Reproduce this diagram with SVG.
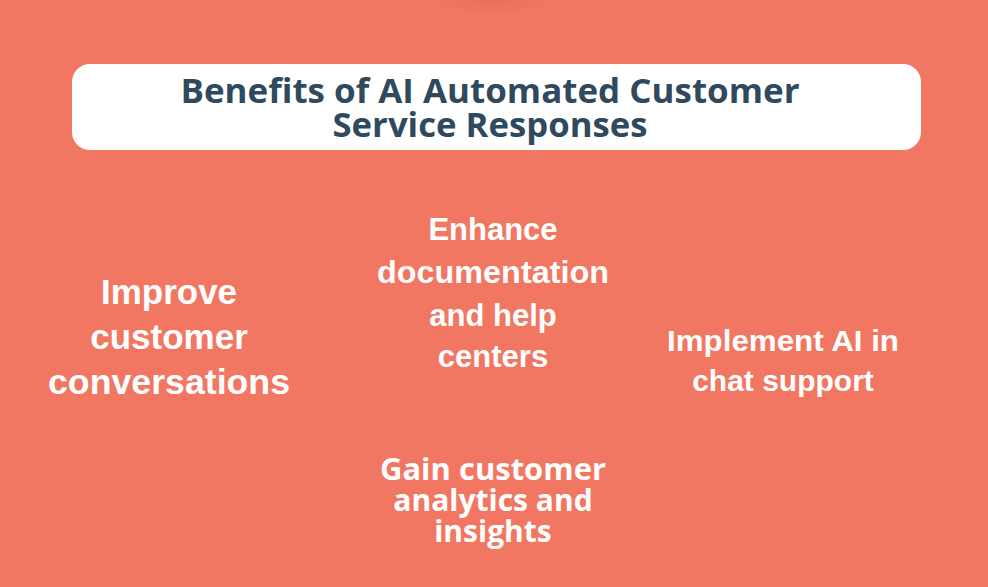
<svg xmlns="http://www.w3.org/2000/svg" width="988" height="587" viewBox="0 0 988 587">
<defs>
<radialGradient id="shade" cx="0.5" cy="0.5" r="0.5">
<stop offset="0" stop-color="#d9604c" stop-opacity="0.35"/>
<stop offset="1" stop-color="#d9604c" stop-opacity="0"/>
</radialGradient>
<style>
.title{font-family:"Open Sans","Liberation Sans",sans-serif;font-weight:700;font-size:34px;fill:#2f4a5e;text-anchor:middle}
.item{font-family:"Liberation Sans",Arial,sans-serif;font-weight:700;fill:#ffffff;text-anchor:middle}
.item2{font-family:"Open Sans","Liberation Sans",sans-serif;font-weight:700;fill:#ffffff;text-anchor:middle;font-size:30px}
</style>
</defs>
<rect x="0" y="0" width="988" height="587" fill="#f27762"/>
<ellipse cx="492" cy="0" rx="60" ry="14" fill="url(#shade)"/>
<g id="title">
<rect x="72" y="64" width="849" height="86" rx="18" fill="#ffffff"/>
<text class="title" x="490" y="103" textLength="619" lengthAdjust="spacingAndGlyphs">Benefits of AI Automated Customer</text>
<text class="title" x="490" y="137" textLength="315" lengthAdjust="spacingAndGlyphs">Service Responses</text>
</g>
<g id="improve">
<text class="item" font-size="35" x="169" y="304">Improve</text>
<text class="item" font-size="35" x="169" y="349">customer</text>
<text class="item" font-size="35" x="169" y="394" textLength="242" lengthAdjust="spacingAndGlyphs">conversations</text>
</g>
<g id="enhance">
<text class="item" font-size="31" x="493" y="240">Enhance</text>
<text class="item" font-size="31" x="493" y="283" textLength="232" lengthAdjust="spacingAndGlyphs">documentation</text>
<text class="item" font-size="31" x="493" y="326">and help</text>
<text class="item" font-size="31" x="493" y="367">centers</text>
</g>
<g id="implement">
<text class="item" font-size="30" x="783" y="351" textLength="232" lengthAdjust="spacingAndGlyphs">Implement AI in</text>
<text class="item" font-size="30" x="783" y="391">chat support</text>
</g>
<g id="gain">
<text class="item2" x="493" y="480" textLength="226" lengthAdjust="spacingAndGlyphs">Gain customer</text>
<text class="item2" x="493" y="511">analytics and</text>
<text class="item2" x="493" y="542">insights</text>
</g>
<g id="connectors"></g>
</svg>
